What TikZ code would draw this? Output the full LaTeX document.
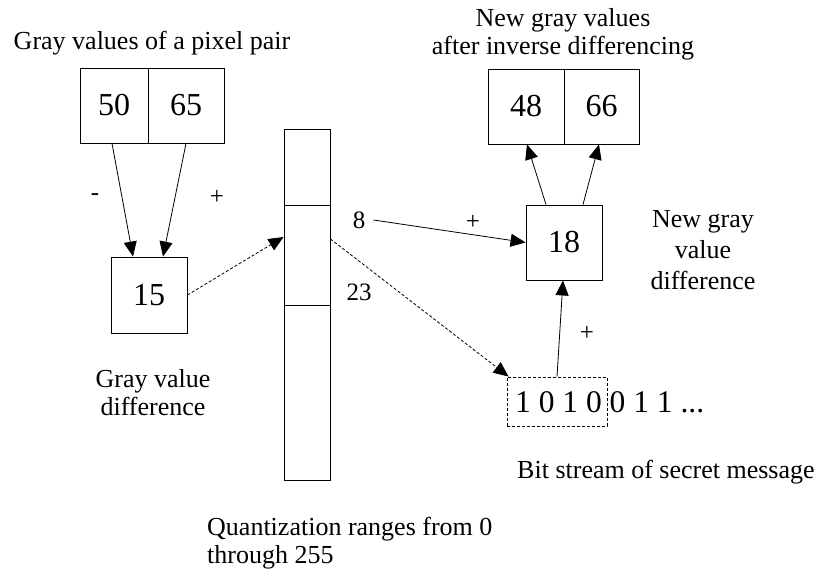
\documentclass[tikz,border=0pt]{standalone}
\usepackage{fontspec}
\setmainfont{Liberation Serif}
\newfontfamily\tnr{Liberation Serif}
\usetikzlibrary{arrows.meta}
\begin{document}
\begin{tikzpicture}[x=1pt,y=-1pt,
  lbl/.style={font=\tnr\fontsize{26}{29}\selectfont, inner sep=0pt, anchor=base},
  small/.style={font=\tnr\fontsize{25}{28}\selectfont, inner sep=0pt},
  cell/.style={draw, line width=0.9pt, inner sep=0pt, minimum width=#1, minimum height=75pt, font=\tnr\fontsize{32}{36}\selectfont},
  colcell/.style={draw, line width=0.9pt, inner sep=0pt, minimum width=46pt, minimum height=#1},
  arr/.style={-{Triangle[length=15pt,width=13pt]}, line width=0.8pt},
  darr/.style={arr, dash pattern=on 3pt off 2pt},
]
\useasboundingbox (0,0) rectangle (819,578);

% left pixel pair
\node[cell=68pt] (p50) at (114,105.5) {50};
\node[cell=76pt] (p65) at (186,105.5) {65};
\node[lbl] (tpair) at (152,50) {Gray values of a pixel pair};

% difference
\node[cell=76pt, minimum height=76pt] (n15) at (149,295) {15};
\node[lbl] (tdiff1) at (153,387) {Gray value};
\node[lbl] (tdiff2) at (153,415) {difference};
\node[small] (minus) at (95,197) {-};
\node[small] (plusa) at (217,197) {+};

% quantization column
\node[colcell=76pt] (c1) at (307,167) {};
\node[colcell=100pt] (c2) at (307,255) {};
\node[colcell=175pt] (c3) at (307,392.5) {};
\node[lbl, anchor=base west] (tq1) at (207,535) {Quantization ranges from 0};
\node[lbl, anchor=base west] (tq2) at (207,563) {through 255};
\node[small, inner xsep=8pt] (n8) at (359,220) {8};
\node[small] (n23) at (359,292) {23};
\node[small] (plusb) at (473,222) {+};

% new difference
\node[cell=76pt] (n18) at (564,242.5) {18};
\node[lbl] (tnd1) at (703,227) {New gray};
\node[lbl] (tnd2) at (703,258) {value};
\node[lbl] (tnd3) at (703,289) {difference};

% new pixel pair
\node[cell=76pt] (n48) at (526,106.5) {48};
\node[cell=75pt] (n66) at (601.5,106.5) {66};
\node[lbl] (tnew1) at (563,27) {New gray values};
\node[lbl] (tnew2) at (563,55) {after inverse differencing};

% bit stream
\node[draw, line width=0.9pt, dash pattern=on 3pt off 2pt, inner sep=0pt, minimum width=100pt, minimum height=49pt] (bitbox) at (557,401.5) {};
\node[font=\tnr\fontsize{31.5}{36}\selectfont, inner sep=0pt, anchor=base west] (bits) at (515,412) {1 0 1 0 0 1 1 ...};
\node[small] (plusc) at (587,333) {+};
\node[lbl, anchor=base west] (tbits) at (517,478) {Bit stream of secret message};

% connectors
\draw[arr] ([xshift=-2pt]p50.south) -- ([xshift=-16pt]n15.north);
\draw[arr] (p65.south) -- ([xshift=14pt]n15.north);
\draw[darr] (n15.east) -- ([yshift=18pt]c2.west);
\draw[darr] ([yshift=16pt]c2.east) -- ([xshift=2pt]bitbox.north west);
\draw[arr] (n8.east) -- (n18.west);
\draw[arr] ([xshift=-18pt]n18.north) -- ([xshift=1pt]n48.south);
\draw[arr] ([xshift=19pt]n18.north) -- ([xshift=-2.5pt]n66.south);
\draw[arr] (bitbox.north) -- ([xshift=-1pt]n18.south);
\end{tikzpicture}
\end{document}
